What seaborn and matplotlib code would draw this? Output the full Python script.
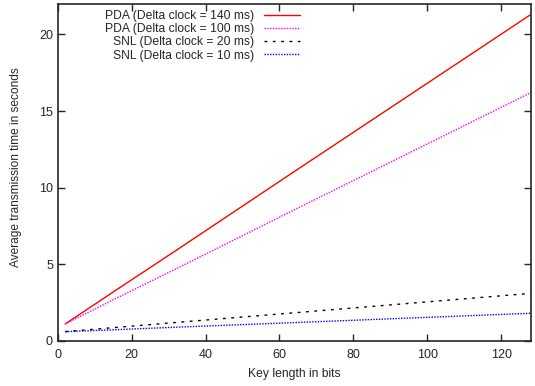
# Average transmission time vs key length for PDA and SNL setups (gnuplot-style line chart)

import pandas as pd
import matplotlib.pyplot as plt
import seaborn as sns

# Data
key_bits = [2, 16, 32, 64, 128]
pda_140 = [1.1, 3.35, 5.9, 11.05, 21.3]
pda_100 = [1.1, 2.8, 4.7, 8.55, 16.2]
snl_20 = [0.6, 0.88, 1.2, 1.83, 3.1]
snl_10 = [0.6, 0.73, 0.89, 1.19, 1.8]

labels = [
    "PDA (Delta clock = 140 ms)",
    "PDA (Delta clock = 100 ms)",
    "SNL (Delta clock = 20 ms)",
    "SNL (Delta clock = 10 ms)",
]
x_ticks = [0, 20, 40, 60, 80, 100, 120]
y_ticks = [0, 5, 10, 15, 20]

sns.set_style("ticks")
plt.rcParams['font.family'] = ['Liberation Sans', 'DejaVu Sans']
plt.rcParams['font.size'] = 9

fig = plt.figure(figsize=(5.35, 3.86), dpi=100)
ax = fig.add_axes([0.108, 0.117, 0.884, 0.873])

series = [pda_140, pda_100, snl_20, snl_10]
colors = ["#ff0000", "#ff00ff", "#000000", "#0000ff"]
styles = ["-", (0, (1, 1)), (0, (2, 4)), (0, (1, 1))]

for vals, lab, col, ls in zip(series, labels, colors, styles):
    df = pd.DataFrame({"bits": key_bits, "time": vals})
    sns.lineplot(data=df, x="bits", y="time", ax=ax, color=col, linestyle=ls,
                 linewidth=1.0, label=lab)

ax.set_xlim(0, 128)
ax.set_ylim(0, 22)
ax.set_xticks(x_ticks)
ax.set_yticks(y_ticks)
ax.tick_params(direction="in", top=True, right=True, length=5, width=1, labelsize=9)
ax.tick_params(axis="x", pad=6)
for s in ax.spines.values():
    s.set_linewidth(1.2)
ax.set_xlabel("Key length in bits", fontsize=8.7, labelpad=5)
ax.set_ylabel("Average transmission time in seconds", fontsize=8.6)
ax.yaxis.set_label_coords(-0.076, 0.515)

ax.legend(loc="upper right", bbox_to_anchor=(300 / 535, 1 - 10 / 386),
          bbox_transform=fig.transFigure, frameon=False, markerfirst=False,
          handlelength=3.0, handletextpad=0.8, labelspacing=0.1, fontsize=8.7,
          borderpad=0, borderaxespad=0)

plt.savefig("out.png", dpi=100)
plt.close()
